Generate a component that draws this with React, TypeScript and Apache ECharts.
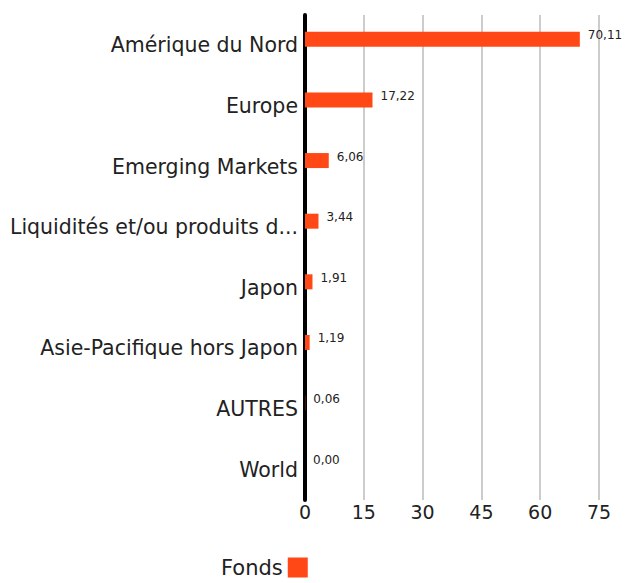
import React, { useEffect, useRef } from "react";
import * as echarts from "echarts";

const categories = [
  "Amérique du Nord",
  "Europe",
  "Emerging Markets",
  "Liquidités et/ou produits dérivés",
  "Japon",
  "Asie-Pacifique hors Japon",
  "AUTRES",
  "World",
];
const fondsValues = [70.11, 17.22, 6.06, 3.44, 1.91, 1.19, 0.06, 0.0];
const xTicks = { min: 0, max: 75, interval: 15 };

const FONT = "'DejaVu Sans', sans-serif";

export default function App() {
  const ref = useRef<HTMLDivElement>(null);
  useEffect(() => {
    document.body.style.margin = "0";
    const chart = echarts.init(ref.current!, null, { renderer: "svg" });
    chart.setOption({
      animation: false,
      textStyle: { fontFamily: FONT },
      grid: { left: 305, right: 42, top: 15, bottom: 83, containLabel: false },
      legend: {
        data: ["Fonds"],
        left: 216,
        top: 552,
        align: "right",
        itemWidth: 20,
        itemHeight: 20,
        itemGap: 8,
        icon: "rect",
        textStyle: { fontSize: 21, color: "#222", fontFamily: FONT },
      },
      xAxis: {
        type: "value",
        min: xTicks.min,
        max: xTicks.max,
        interval: xTicks.interval,
        axisLine: { show: false },
        axisTick: { show: false },
        splitLine: { show: true, lineStyle: { color: "#cccccc", width: 2 } },
        axisLabel: { fontSize: 19, color: "#222", margin: 2, fontFamily: FONT },
      },
      yAxis: {
        type: "category",
        data: categories,
        inverse: true,
        axisTick: { show: false },
        axisLine: { show: true, lineStyle: { color: "#000", width: 4 } },
        axisLabel: {
          fontSize: 20.5,
          color: "#222",
          margin: 7,
          fontFamily: FONT,
          width: 291,
          overflow: "truncate",
          ellipsis: "...",
          padding: [8, 0, 0, 0],
        },
      },
      series: [
        {
          name: "Fonds",
          type: "bar",
          data: fondsValues,
          barWidth: 15,
          barGap: "-20%",
          itemStyle: { color: "#ff4815" },
          label: {
            show: true,
            position: "right",
            distance: 8,
            offset: [0, -4],
            fontSize: 12,
            color: "#222",
            fontFamily: FONT,
            formatter: (p: any) => Number(p.value).toFixed(2).replace(".", ","),
          },
          z: 3,
        },
        {
          name: "_spacer",
          type: "bar",
          data: fondsValues.map(() => null),
          barWidth: 15,
          silent: true,
          itemStyle: { color: "transparent" },
        },
      ],
    });
    return () => chart.dispose();
  }, []);
  return <div ref={ref} style={{ width: 641, height: 583 }} />;
}
